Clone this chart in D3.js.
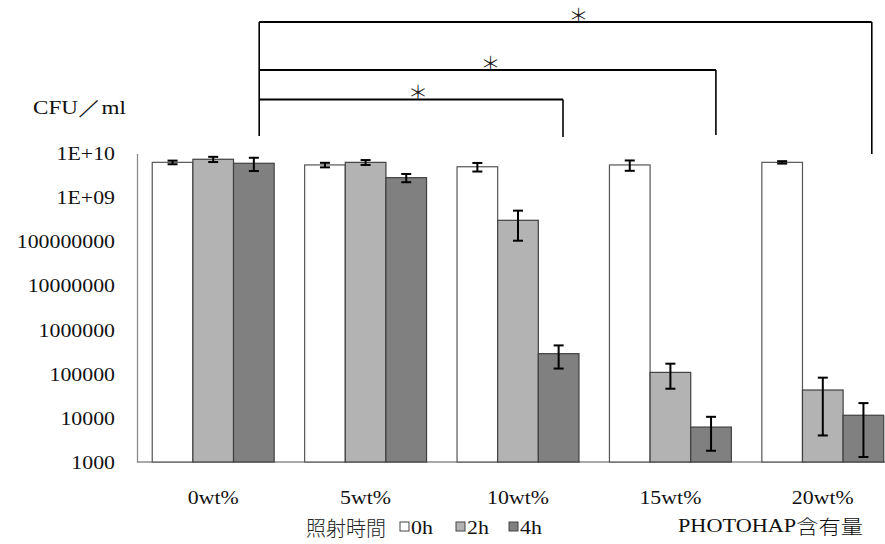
<!DOCTYPE html>
<html><head><meta charset="utf-8">
<script src="https://cdn.jsdelivr.net/npm/d3@7"></script>
<style>body{margin:0;background:#fff} svg{display:block}</style>
</head><body><svg id="c" width="885" height="544"></svg>
<script>
// ---- data ----
const categories = ["0wt%", "5wt%", "10wt%", "15wt%", "20wt%"];
const seriesNames = ["0h", "2h", "4h"];
const mean0h = [6.3e9, 5.5e9, 5.0e9, 5.5e9, 6.3e9];
const mean2h = [7.4e9, 6.3e9, 3.05e8, 1.08e5, 4.3e4];
const mean4h = [6.0e9, 2.83e9, 2.87e5, 6.2e3, 1.15e4];
const sd0h = [0.6e9, 0.65e9, 1.1e9, 1.45e9, 0.4e9];
const sd2h = [1.0e9, 0.8e9, 2.0e8, 6.2e4, 3.9e4];
const sd4h = [2.0e9, 0.6e9, 1.55e5, 4.4e3, 1.02e4];
const yTickValues = [1e3, 1e4, 1e5, 1e6, 1e7, 1e8, 1e9, 1e10];
const yTickLabels = ["1000", "10000", "100000", "1000000", "10000000", "100000000", "1E+09", "1E+10"];
const brackets = [
  {from: "0wt%", to: "10wt%", label: "＊"},
  {from: "0wt%", to: "15wt%", label: "＊"},
  {from: "0wt%", to: "20wt%", label: "＊"}
];
const yTitle = "CFU／ml";
const legendTitle = "照射時間";
const xTitle = "PHOTOHAP含有量";

// ---- build ----
const means = [mean0h, mean2h, mean4h];
const sds = [sd0h, sd2h, sd4h];
const fills = ["#ffffff", "#b3b3b3", "#808080"];
const strokes = ["#555555", "#404040", "#404040"];
const serif = "'Liberation Serif', 'Times New Roman', serif";
const cjk = "'Noto Sans CJK JP', sans-serif";
const FS = 19.5;

const svg = d3.select("#c");
const x0 = 137, yBase = 462;
const x = d3.scaleBand().domain(categories).range([x0, x0 + 5 * 152.4]).paddingInner(0.2).paddingOuter(0.1);
const xs = d3.scaleBand().domain(seriesNames).range([0, x.bandwidth()]);
const y = d3.scaleLog().domain([1e3, 1e10]).range([yBase, 153.5]);

function stretch(sel, k) {
  sel.each(function () {
    const w = this.getComputedTextLength();
    d3.select(this).attr("textLength", w * k).attr("lengthAdjust", "spacingAndGlyphs");
  });
}

// axes
const yAxis = d3.axisLeft(y).tickValues(yTickValues).tickSize(0).tickPadding(22)
  .tickFormat((d, i) => yTickLabels[i]);
const gy = svg.append("g").attr("transform", `translate(${x0},0)`).call(yAxis);
gy.select(".domain").attr("stroke", "#8c8c8c").attr("stroke-width", 1.3);
gy.selectAll("text").attr("font-family", serif).attr("font-size", FS).attr("fill", "#111");
stretch(gy.selectAll("text"), 1.12);

svg.append("line").attr("x1", x0).attr("x2", 885).attr("y1", yBase).attr("y2", yBase)
  .attr("stroke", "#8c8c8c").attr("stroke-width", 1.3);

// bars
const data = [];
categories.forEach((c, i) => seriesNames.forEach((s, j) => data.push({c, s, j, v: means[j][i], e: sds[j][i]})));
svg.append("g").selectAll("rect").data(data).join("rect")
  .attr("x", d => x(d.c) + xs(d.s))
  .attr("width", xs.bandwidth())
  .attr("y", d => y(d.v))
  .attr("height", d => yBase - y(d.v))
  .attr("fill", d => fills[d.j])
  .attr("stroke", d => strokes[d.j])
  .attr("stroke-width", 1.2);

// error bars
const eb = svg.append("g").attr("stroke", "#000").attr("stroke-width", 2);
data.forEach(d => {
  const cx = x(d.c) + xs(d.s) + xs.bandwidth() / 2;
  const yt = y(d.v + d.e), yb = y(Math.max(d.v - d.e, 1e3));
  eb.append("line").attr("x1", cx).attr("x2", cx).attr("y1", yt).attr("y2", yb);
  eb.append("line").attr("x1", cx - 5).attr("x2", cx + 5).attr("y1", yt).attr("y2", yt);
  eb.append("line").attr("x1", cx - 5).attr("x2", cx + 5).attr("y1", yb).attr("y2", yb);
});

// x labels
const xl = svg.append("g").selectAll("text").data(categories).join("text")
  .attr("x", d => x(d) + x.bandwidth() / 2).attr("y", 497)
  .attr("text-anchor", "middle").attr("dominant-baseline", "central")
  .attr("font-family", serif).attr("font-size", FS).attr("fill", "#111").text(d => d);
stretch(xl, 1.12);

// y title
svg.append("text").attr("x", 33).attr("y", 107).attr("dominant-baseline", "central")
  .attr("font-family", serif).attr("font-size", FS).attr("fill", "#111")
  .attr("textLength", 93).attr("lengthAdjust", "spacingAndGlyphs").text(yTitle);

// legend
const lg = svg.append("g");
lg.append("text").attr("x", 306).attr("y", 527).attr("dominant-baseline", "central")
  .attr("font-family", cjk).attr("font-weight", 300).attr("font-size", 20).attr("fill", "#222").text(legendTitle);
const legX = [400, 456, 509];
seriesNames.forEach((s, j) => {
  lg.append("rect").attr("x", legX[j]).attr("y", 522).attr("width", 9).attr("height", 9)
    .attr("fill", fills[j]).attr("stroke", "#444").attr("stroke-width", 1);
  const t = lg.append("text").attr("x", legX[j] + 11).attr("y", 527).attr("dominant-baseline", "central")
    .attr("font-family", serif).attr("font-size", FS).attr("fill", "#111").text(s);
  stretch(t, 1.12);
});

// x title
const xt = svg.append("text").attr("x", 678).attr("y", 525).attr("dominant-baseline", "central")
  .attr("font-size", FS).attr("fill", "#111");
xt.append("tspan").attr("font-family", serif).text(xTitle.slice(0, 8));
xt.append("tspan").attr("font-family", cjk).attr("font-weight", 300).text(xTitle.slice(8));
xt.attr("textLength", 185).attr("lengthAdjust", "spacingAndGlyphs");

// significance brackets
const levelY = [99.5, 70, 22];
const rightBottom = [137, 135, 154];
const rightOff = [45, 45.5, 49];
const starOff = [7, 3, 13];
const bg = svg.append("g").attr("stroke", "#000").attr("fill", "none");
const leftX = x("0wt%") + x.bandwidth() / 2 + 46;
bg.append("line").attr("x1", leftX).attr("x2", leftX).attr("y1", levelY[2]).attr("y2", 136).attr("stroke-width", 1.6);
brackets.forEach((b, i) => {
  const xr = x(b.to) + x.bandwidth() / 2 + rightOff[i];
  bg.append("line").attr("x1", leftX).attr("x2", xr).attr("y1", levelY[i]).attr("y2", levelY[i]).attr("stroke-width", 2);
  bg.append("line").attr("x1", xr).attr("x2", xr).attr("y1", levelY[i]).attr("y2", rightBottom[i]).attr("stroke-width", 1.6);
  svg.append("text").attr("x", (leftX + xr) / 2 + starOff[i]).attr("y", levelY[i] - 8)
    .attr("text-anchor", "middle").attr("dominant-baseline", "central")
    .attr("font-family", cjk).attr("font-weight", 300).attr("font-size", 20).attr("fill", "#111").text(b.label);
});
</script></body></html>
